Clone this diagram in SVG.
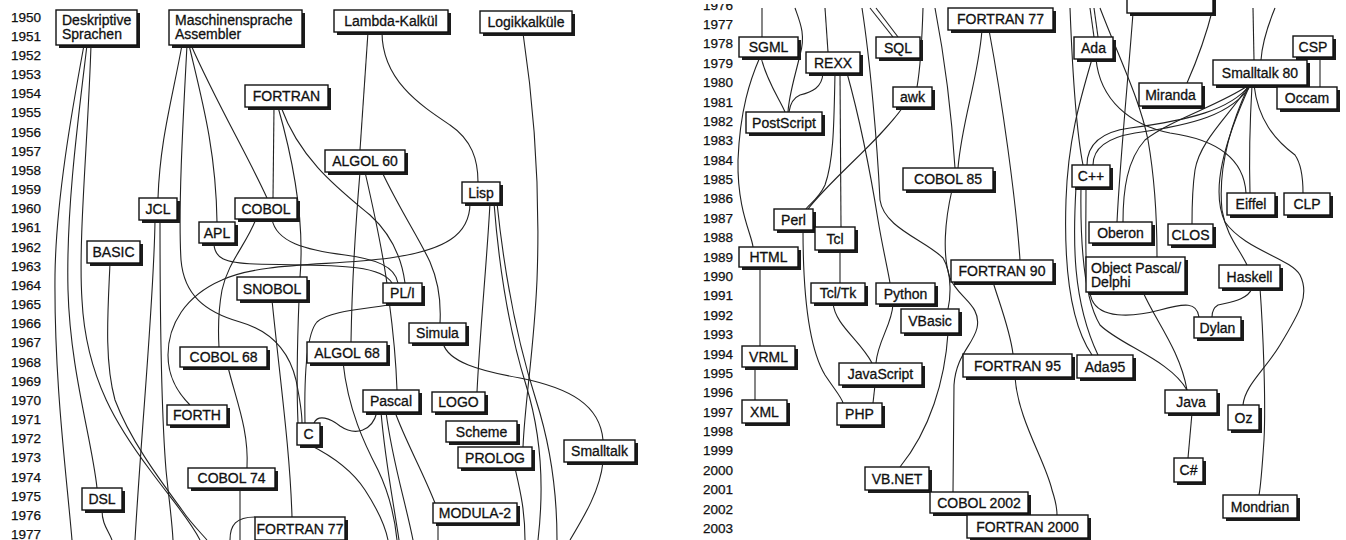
<svg xmlns="http://www.w3.org/2000/svg" width="1346" height="540" viewBox="0 0 1346 540">
<style>
.yr{font-family:"Liberation Sans",Arial,sans-serif;font-size:13.5px;fill:#111;stroke:#111;stroke-width:0.25}
.s{fill:#1c1c1c}
.b{fill:#fff;stroke:#111;stroke-width:1.4}
.t{font-family:"Liberation Sans",Arial,sans-serif;font-size:14px;fill:#111;stroke:#111;stroke-width:0.3;text-anchor:middle}
.tl{font-family:"Liberation Sans",Arial,sans-serif;font-size:14px;fill:#111;stroke:#111;stroke-width:0.3}
.c path{fill:none;stroke:#222;stroke-width:1.1}
</style>
<defs>
<clipPath id="topclip"><rect x="690" y="4" width="656" height="536"/></clipPath>
</defs>
<rect width="1346" height="540" fill="#fff"/>
<g id="years-left" class="yr">
<text x="11" y="21.5">1950</text><text x="11" y="40.7">1951</text><text x="11" y="59.8">1952</text><text x="11" y="79">1953</text><text x="11" y="98.2">1954</text><text x="11" y="117.4">1955</text><text x="11" y="136.5">1956</text><text x="11" y="155.7">1957</text><text x="11" y="174.9">1958</text><text x="11" y="194">1959</text><text x="11" y="213.2">1960</text><text x="11" y="232.4">1961</text><text x="11" y="251.5">1962</text><text x="11" y="270.7">1963</text><text x="11" y="289.9">1964</text><text x="11" y="309">1965</text><text x="11" y="328.2">1966</text><text x="11" y="347.4">1967</text><text x="11" y="366.6">1968</text><text x="11" y="385.7">1969</text><text x="11" y="404.9">1970</text><text x="11" y="424.1">1971</text><text x="11" y="443.2">1972</text><text x="11" y="462.4">1973</text><text x="11" y="481.6">1974</text><text x="11" y="500.8">1975</text><text x="11" y="519.9">1976</text><text x="11" y="539.1">1977</text>
</g>
<g id="years-right" class="yr" clip-path="url(#topclip)">
<text x="703" y="9.6">1976</text><text x="703" y="29">1977</text><text x="703" y="48.4">1978</text><text x="703" y="67.8">1979</text><text x="703" y="87.1">1980</text><text x="703" y="106.5">1981</text><text x="703" y="125.9">1982</text><text x="703" y="145.3">1983</text><text x="703" y="164.7">1984</text><text x="703" y="184">1985</text><text x="703" y="203.4">1986</text><text x="703" y="222.8">1987</text><text x="703" y="242.2">1988</text><text x="703" y="261.6">1989</text><text x="703" y="280.9">1990</text><text x="703" y="300.3">1991</text><text x="703" y="319.7">1992</text><text x="703" y="339.1">1993</text><text x="703" y="358.5">1994</text><text x="703" y="377.8">1995</text><text x="703" y="397.2">1996</text><text x="703" y="416.6">1997</text><text x="703" y="436">1998</text><text x="703" y="455.4">1999</text><text x="703" y="474.7">2000</text><text x="703" y="494.1">2001</text><text x="703" y="513.5">2002</text><text x="703" y="532.9">2003</text>
</g>
<g id="connectors" class="c">
<path d="M84,45 C72,110 56,200 55,275 C54,380 66,470 72,540"/>
<path d="M87,45 C78,120 66,210 68,290 C70,370 92,440 97,488"/>
<path d="M91,45 C88,140 78,240 82,300 C86,380 120,430 150,470 C172,500 190,520 200,540"/>
<path d="M110,263 C108,310 104,360 115,400 C130,440 160,480 182,510 C190,522 200,532 207,540"/>
<path d="M182,45 C172,100 160,140 158,198"/>
<path d="M155,220 C154,300 142,420 135,540"/>
<path d="M160,220 C160,330 162,420 166,470 C169,500 172,520 173,540"/>
<path d="M187,45 C183,120 178,210 181,260 C184,295 205,312 240,322 C275,332 290,355 296,380 C300,400 302,410 302,423"/>
<path d="M189,45 C202,100 216,150 217,222"/>
<path d="M191,45 C215,100 250,160 267,198"/>
<path d="M214,243 C214,258 224,263 255,264 C320,266 380,262 392,283"/>
<path d="M272,219 C276,242 305,250 345,255 C375,259 395,266 398,283"/>
<path d="M281,107 C300,160 340,190 370,215 C392,235 402,260 405,283"/>
<path d="M274,107 L273,198"/>
<path d="M278,107 C296,170 304,230 300,277"/>
<path d="M299,300 C297,350 297,400 298,423"/>
<path d="M272,300 C280,380 290,450 292,517"/>
<path d="M256,219 C246,245 228,262 222,290 C218,312 218,330 219,347"/>
<path d="M228,367 C236,400 249,430 247,468"/>
<path d="M240,488 L240,540"/>
<path d="M230,540 C230,525 236,517 255,517"/>
<path d="M102,510 C102,524 108,530 112,540"/>
<path d="M368,32 L360,150"/>
<path d="M382,32 C382,80 420,105 450,125 C472,140 478,160 478,182"/>
<path d="M523,33 C536,120 540,200 537,280 C534,350 525,400 523,447"/>
<path d="M360,172 C356,220 352,280 351,342"/>
<path d="M365,172 C376,220 386,270 389,300 C393,330 396,360 397,390"/>
<path d="M382,172 C400,210 420,240 430,262 C440,285 441,305 440,323"/>
<path d="M490,203 C487,260 480,330 477,392"/>
<path d="M494,203 C500,280 512,340 526,385 C540,430 545,480 538,540"/>
<path d="M497,203 C505,280 520,350 536,400 C552,450 557,500 557,540"/>
<path d="M470,203 C470,235 445,250 390,258 C330,266 260,262 222,280 C185,296 168,325 168,355 C168,380 180,395 190,405"/>
<path d="M400,303 C370,309 330,310 317,322 C307,333 304,370 305,423"/>
<path d="M377,412 C372,432 355,436 340,426 C330,418 318,414 314,423"/>
<path d="M443,343 C448,362 480,371 520,378 C570,388 600,405 603,440"/>
<path d="M343,362 C348,410 365,445 378,470 C390,495 395,520 397,540"/>
<path d="M381,412 C385,460 393,500 399,540"/>
<path d="M386,412 C392,460 405,500 413,540"/>
<path d="M395,412 C405,440 422,470 435,503"/>
<path d="M310,445 C330,455 352,470 365,490 C378,510 385,525 388,540"/>
<path d="M515,468 C520,490 525,510 525,540"/>
<path d="M438,523 L438,540"/>
<path d="M603,462 C600,490 585,515 570,540"/>
<path d="M762,8 L762,37"/>
<path d="M795,8 C800,22 806,35 800,55 C794,80 789,95 788,112"/>
<path d="M825,8 L828,52"/>
<path d="M862,8 C870,60 877,140 880,200 C884,228 925,240 943,258 C953,275 950,300 948,309"/>
<path d="M870,8 L893,37"/>
<path d="M876,8 L898,37"/>
<path d="M923,8 C922,40 920,70 917,87"/>
<path d="M935,8 C945,60 952,120 955,168"/>
<path d="M982,30 C978,80 962,120 958,168"/>
<path d="M989,30 C1002,100 1016,200 1020,260"/>
<path d="M760,57 C750,80 740,110 738,160 C737,210 752,235 753,247"/>
<path d="M761,57 C766,80 780,100 785,112"/>
<path d="M823,73 C822,88 812,92 800,95 C793,98 790,105 789,112"/>
<path d="M835,73 C834,120 834,160 825,185 C818,200 808,205 806,209"/>
<path d="M840,73 L841,227"/>
<path d="M847,73 C860,120 870,170 878,220 C883,250 888,270 890,283"/>
<path d="M903,107 C880,140 830,180 808,209"/>
<path d="M952,190 C945,220 942,255 950,278 C958,298 982,305 977,328 C973,345 956,355 954,385 L953,492"/>
<path d="M993,282 C1000,305 1010,330 1013,354"/>
<path d="M1015,377 C1018,420 1045,460 1052,490 C1056,502 1057,510 1057,515"/>
<path d="M803,230 C803,300 810,350 825,375 C835,390 842,398 843,403"/>
<path d="M840,250 L840,283"/>
<path d="M833,303 C835,325 860,340 872,363"/>
<path d="M893,304 C892,325 878,340 876,363"/>
<path d="M875,385 L873,403"/>
<path d="M948,333 C945,380 930,430 900,467"/>
<path d="M760,267 L760,346"/>
<path d="M755,367 L755,400"/>
<path d="M1070,8 C1072,60 1076,130 1083,165"/>
<path d="M1090,8 L1094,37"/>
<path d="M1094,8 L1098,37"/>
<path d="M1100,8 C1120,60 1140,100 1148,140 C1155,180 1157,220 1157,257"/>
<path d="M1133,13 C1128,80 1120,160 1117,222"/>
<path d="M1213,8 C1205,40 1195,65 1187,83"/>
<path d="M1253,8 L1254,60"/>
<path d="M1275,8 C1268,25 1262,45 1261,60"/>
<path d="M1320,57 L1320,87"/>
<path d="M1092,59 C1080,100 1068,140 1066,200 C1064,260 1068,320 1092,355"/>
<path d="M1076,187 C1073,240 1072,300 1098,355"/>
<path d="M1081,187 C1080,250 1085,300 1100,325 C1120,345 1170,360 1187,390"/>
<path d="M1086,187 C1086,240 1084,280 1092,300 C1100,318 1130,318 1160,310 C1185,303 1197,302 1199,317"/>
<path d="M1096,59 C1100,100 1130,125 1170,133 C1220,140 1244,160 1246,193"/>
<path d="M1250,85 C1230,110 1190,120 1130,128 C1100,132 1087,145 1087,165"/>
<path d="M1251,85 C1232,115 1192,125 1135,133 C1105,138 1093,150 1093,165"/>
<path d="M1249,85 C1220,105 1170,120 1145,140 C1127,160 1123,190 1123,222"/>
<path d="M1249,85 C1230,115 1200,140 1195,170 C1192,190 1192,210 1192,224"/>
<path d="M1252,85 C1250,120 1249,160 1250,193"/>
<path d="M1254,85 C1258,120 1275,140 1295,155 C1302,165 1303,180 1303,193"/>
<path d="M1249,85 C1228,130 1218,170 1222,210 C1226,235 1240,250 1247,265"/>
<path d="M1250,85 C1225,140 1210,190 1225,222 C1245,250 1290,258 1300,275 C1310,295 1300,312 1280,345 C1265,370 1245,385 1243,405"/>
<path d="M1143,292 C1155,320 1180,350 1187,390"/>
<path d="M1252,288 C1248,300 1230,302 1218,305 C1213,308 1212,312 1212,317"/>
<path d="M1260,288 C1263,330 1266,400 1264,440 C1262,470 1260,490 1259,495"/>
<path d="M1192,413 L1188,458"/>
</g>
<g id="n-desk"><rect class="s" x="59" y="13" width="81" height="35"/><rect class="b" x="56" y="10" width="81" height="35"/><text class="tl" x="62" y="25">Deskriptive</text><text class="tl" x="62" y="39">Sprachen</text></g>
<g id="n-masch"><rect class="s" x="172" y="13" width="133" height="35"/><rect class="b" x="169" y="10" width="133" height="35"/><text class="tl" x="175" y="25">Maschinensprache</text><text class="tl" x="175" y="39">Assembler</text></g>
<g id="n-lambda"><rect class="s" x="337" y="13" width="114" height="22"/><rect class="b" x="334" y="10" width="114" height="22"/><text class="t" x="391" y="26">Lambda-Kalkül</text></g>
<g id="n-logik"><rect class="s" x="483" y="14" width="92" height="22"/><rect class="b" x="480" y="11" width="92" height="22"/><text class="t" x="526" y="27">Logikkalküle</text></g>
<g id="n-fortran"><rect class="s" x="248" y="88" width="83" height="22"/><rect class="b" x="245" y="85" width="83" height="22"/><text class="t" x="286.5" y="101">FORTRAN</text></g>
<g id="n-algol60"><rect class="s" x="328" y="153" width="80" height="22"/><rect class="b" x="325" y="150" width="80" height="22"/><text class="t" x="365" y="166">ALGOL 60</text></g>
<g id="n-lisp"><rect class="s" x="465" y="185" width="38" height="21"/><rect class="b" x="462" y="182" width="38" height="21"/><text class="t" x="481" y="197.5">Lisp</text></g>
<g id="n-jcl"><rect class="s" x="142" y="201" width="38" height="22"/><rect class="b" x="139" y="198" width="38" height="22"/><text class="t" x="158" y="214">JCL</text></g>
<g id="n-cobol"><rect class="s" x="238" y="201" width="62" height="21"/><rect class="b" x="235" y="198" width="62" height="21"/><text class="t" x="266" y="213.5">COBOL</text></g>
<g id="n-apl"><rect class="s" x="202" y="225" width="36" height="21"/><rect class="b" x="199" y="222" width="36" height="21"/><text class="t" x="217" y="237.5">APL</text></g>
<g id="n-basic"><rect class="s" x="90" y="244" width="53" height="22"/><rect class="b" x="87" y="241" width="53" height="22"/><text class="t" x="113.5" y="257">BASIC</text></g>
<g id="n-snobol"><rect class="s" x="240" y="280" width="70" height="23"/><rect class="b" x="237" y="277" width="70" height="23"/><text class="t" x="272" y="293.5">SNOBOL</text></g>
<g id="n-pli"><rect class="s" x="386" y="286" width="39" height="20"/><rect class="b" x="383" y="283" width="39" height="20"/><text class="t" x="402.5" y="298">PL/I</text></g>
<g id="n-simula"><rect class="s" x="412" y="326" width="57" height="20"/><rect class="b" x="409" y="323" width="57" height="20"/><text class="t" x="437.5" y="338">Simula</text></g>
<g id="n-algol68"><rect class="s" x="310" y="345" width="80" height="21"/><rect class="b" x="307" y="342" width="80" height="21"/><text class="t" x="347" y="357.5">ALGOL 68</text></g>
<g id="n-cobol68"><rect class="s" x="183" y="350" width="87" height="20"/><rect class="b" x="180" y="347" width="87" height="20"/><text class="t" x="223.5" y="362">COBOL 68</text></g>
<g id="n-pascal"><rect class="s" x="366" y="393" width="56" height="22"/><rect class="b" x="363" y="390" width="56" height="22"/><text class="t" x="391" y="406">Pascal</text></g>
<g id="n-logo"><rect class="s" x="435" y="395" width="53" height="20"/><rect class="b" x="432" y="392" width="53" height="20"/><text class="t" x="458.5" y="407">LOGO</text></g>
<g id="n-forth"><rect class="s" x="170" y="408" width="60" height="20"/><rect class="b" x="167" y="405" width="60" height="20"/><text class="t" x="197" y="420">FORTH</text></g>
<g id="n-scheme"><rect class="s" x="449" y="424" width="71" height="21"/><rect class="b" x="446" y="421" width="71" height="21"/><text class="t" x="481.5" y="436.5">Scheme</text></g>
<g id="n-c"><rect class="s" x="300" y="426" width="23" height="22"/><rect class="b" x="297" y="423" width="23" height="22"/><text class="t" x="308.5" y="439">C</text></g>
<g id="n-smalltalk"><rect class="s" x="567" y="443" width="71" height="22"/><rect class="b" x="564" y="440" width="71" height="22"/><text class="t" x="599.5" y="456">Smalltalk</text></g>
<g id="n-prolog"><rect class="s" x="461" y="450" width="74" height="21"/><rect class="b" x="458" y="447" width="74" height="21"/><text class="t" x="495" y="462.5">PROLOG</text></g>
<g id="n-cobol74"><rect class="s" x="191" y="471" width="87" height="20"/><rect class="b" x="188" y="468" width="87" height="20"/><text class="t" x="231.5" y="483">COBOL 74</text></g>
<g id="n-dsl"><rect class="s" x="85" y="491" width="40" height="22"/><rect class="b" x="82" y="488" width="40" height="22"/><text class="t" x="102" y="504">DSL</text></g>
<g id="n-modula2"><rect class="s" x="436" y="506" width="84" height="20"/><rect class="b" x="433" y="503" width="84" height="20"/><text class="t" x="475" y="518">MODULA-2</text></g>
<g id="n-fortran77a"><rect class="s" x="258" y="520" width="90" height="23"/><rect class="b" x="255" y="517" width="90" height="23"/><text class="t" x="300" y="533.5">FORTRAN 77</text></g>
<g id="n-fortran77b"><rect class="s" x="951" y="11" width="105" height="22"/><rect class="b" x="948" y="8" width="105" height="22"/><text class="t" x="1000.5" y="24">FORTRAN 77</text></g>
<g id="n-cut"><rect class="s" x="1130" y="-9" width="86" height="25"/><rect class="b" x="1127" y="-12" width="86" height="25"/></g>
<g id="n-sgml"><rect class="s" x="742" y="40" width="59" height="20"/><rect class="b" x="739" y="37" width="59" height="20"/><text class="t" x="768.5" y="52">SGML</text></g>
<g id="n-ada"><rect class="s" x="1077" y="40" width="39" height="22"/><rect class="b" x="1074" y="37" width="39" height="22"/><text class="t" x="1093.5" y="53">Ada</text></g>
<g id="n-sql"><rect class="s" x="879" y="40" width="44" height="21"/><rect class="b" x="876" y="37" width="44" height="21"/><text class="t" x="898" y="52.5">SQL</text></g>
<g id="n-csp"><rect class="s" x="1296" y="39" width="40" height="21"/><rect class="b" x="1293" y="36" width="40" height="21"/><text class="t" x="1313" y="51.5">CSP</text></g>
<g id="n-rexx"><rect class="s" x="809" y="55" width="54" height="21"/><rect class="b" x="806" y="52" width="54" height="21"/><text class="t" x="833" y="67.5">REXX</text></g>
<g id="n-st80"><rect class="s" x="1216" y="63" width="94" height="25"/><rect class="b" x="1213" y="60" width="94" height="25"/><text class="t" x="1260" y="77.5">Smalltalk 80</text></g>
<g id="n-miranda"><rect class="s" x="1142" y="86" width="63" height="23"/><rect class="b" x="1139" y="83" width="63" height="23"/><text class="t" x="1170.5" y="99.5">Miranda</text></g>
<g id="n-awk"><rect class="s" x="896" y="90" width="39" height="20"/><rect class="b" x="893" y="87" width="39" height="20"/><text class="t" x="912.5" y="102">awk</text></g>
<g id="n-occam"><rect class="s" x="1280" y="90" width="60" height="22"/><rect class="b" x="1277" y="87" width="60" height="22"/><text class="t" x="1307" y="103">Occam</text></g>
<g id="n-postscript"><rect class="s" x="749" y="115" width="76" height="21"/><rect class="b" x="746" y="112" width="76" height="21"/><text class="t" x="784" y="127.5">PostScript</text></g>
<g id="n-cpp"><rect class="s" x="1075" y="168" width="38" height="22"/><rect class="b" x="1072" y="165" width="38" height="22"/><text class="t" x="1091" y="181">C++</text></g>
<g id="n-cobol85"><rect class="s" x="906" y="171" width="90" height="22"/><rect class="b" x="903" y="168" width="90" height="22"/><text class="t" x="948" y="184">COBOL 85</text></g>
<g id="n-eiffel"><rect class="s" x="1230" y="196" width="48" height="22"/><rect class="b" x="1227" y="193" width="48" height="22"/><text class="t" x="1251" y="209">Eiffel</text></g>
<g id="n-clp"><rect class="s" x="1287" y="196" width="46" height="22"/><rect class="b" x="1284" y="193" width="46" height="22"/><text class="t" x="1307" y="209">CLP</text></g>
<g id="n-perl"><rect class="s" x="777" y="212" width="39" height="21"/><rect class="b" x="774" y="209" width="39" height="21"/><text class="t" x="793.5" y="224.5">Perl</text></g>
<g id="n-oberon"><rect class="s" x="1092" y="225" width="63" height="21"/><rect class="b" x="1089" y="222" width="63" height="21"/><text class="t" x="1120.5" y="237.5">Oberon</text></g>
<g id="n-clos"><rect class="s" x="1171" y="227" width="45" height="21"/><rect class="b" x="1168" y="224" width="45" height="21"/><text class="t" x="1190.5" y="239.5">CLOS</text></g>
<g id="n-tcl"><rect class="s" x="818" y="230" width="40" height="23"/><rect class="b" x="815" y="227" width="40" height="23"/><text class="t" x="835" y="243.5">Tcl</text></g>
<g id="n-html"><rect class="s" x="742" y="250" width="59" height="20"/><rect class="b" x="739" y="247" width="59" height="20"/><text class="t" x="768.5" y="262">HTML</text></g>
<g id="n-objpascal"><rect class="s" x="1089" y="260" width="99" height="35"/><rect class="b" x="1086" y="257" width="99" height="35"/><text class="tl" x="1091" y="273">Object Pascal/</text><text class="tl" x="1091" y="287">Delphi</text></g>
<g id="n-fortran90"><rect class="s" x="954" y="263" width="102" height="22"/><rect class="b" x="951" y="260" width="102" height="22"/><text class="t" x="1002" y="276">FORTRAN 90</text></g>
<g id="n-haskell"><rect class="s" x="1222" y="268" width="61" height="23"/><rect class="b" x="1219" y="265" width="61" height="23"/><text class="t" x="1249.5" y="281.5">Haskell</text></g>
<g id="n-tcltk"><rect class="s" x="814" y="286" width="54" height="20"/><rect class="b" x="811" y="283" width="54" height="20"/><text class="t" x="838" y="298">Tcl/Tk</text></g>
<g id="n-python"><rect class="s" x="879" y="286" width="59" height="21"/><rect class="b" x="876" y="283" width="59" height="21"/><text class="t" x="905.5" y="298.5">Python</text></g>
<g id="n-vbasic"><rect class="s" x="904" y="312" width="58" height="24"/><rect class="b" x="901" y="309" width="58" height="24"/><text class="t" x="930" y="326">VBasic</text></g>
<g id="n-dylan"><rect class="s" x="1197" y="320" width="47" height="21"/><rect class="b" x="1194" y="317" width="47" height="21"/><text class="t" x="1217.5" y="332.5">Dylan</text></g>
<g id="n-vrml"><rect class="s" x="745" y="349" width="53" height="21"/><rect class="b" x="742" y="346" width="53" height="21"/><text class="t" x="768.5" y="361.5">VRML</text></g>
<g id="n-fortran95"><rect class="s" x="966" y="357" width="109" height="23"/><rect class="b" x="963" y="354" width="109" height="23"/><text class="t" x="1017.5" y="370.5">FORTRAN 95</text></g>
<g id="n-ada95"><rect class="s" x="1080" y="358" width="56" height="23"/><rect class="b" x="1077" y="355" width="56" height="23"/><text class="t" x="1105" y="371.5">Ada95</text></g>
<g id="n-javascript"><rect class="s" x="842" y="366" width="83" height="22"/><rect class="b" x="839" y="363" width="83" height="22"/><text class="t" x="880.5" y="379">JavaScript</text></g>
<g id="n-java"><rect class="s" x="1168" y="393" width="52" height="23"/><rect class="b" x="1165" y="390" width="52" height="23"/><text class="t" x="1191" y="406.5">Java</text></g>
<g id="n-xml"><rect class="s" x="745" y="403" width="45" height="23"/><rect class="b" x="742" y="400" width="45" height="23"/><text class="t" x="764.5" y="416.5">XML</text></g>
<g id="n-php"><rect class="s" x="840" y="406" width="45" height="22"/><rect class="b" x="837" y="403" width="45" height="22"/><text class="t" x="859.5" y="419">PHP</text></g>
<g id="n-oz"><rect class="s" x="1231" y="408" width="31" height="25"/><rect class="b" x="1228" y="405" width="31" height="25"/><text class="t" x="1243.5" y="422.5">Oz</text></g>
<g id="n-csharp"><rect class="s" x="1177" y="461" width="29" height="24"/><rect class="b" x="1174" y="458" width="29" height="24"/><text class="t" x="1188.5" y="475">C#</text></g>
<g id="n-vbnet"><rect class="s" x="868" y="470" width="64" height="23"/><rect class="b" x="865" y="467" width="64" height="23"/><text class="t" x="897" y="483.5">VB.NET</text></g>
<g id="n-cobol2002"><rect class="s" x="933" y="495" width="98" height="21"/><rect class="b" x="930" y="492" width="98" height="21"/><text class="t" x="979" y="507.5">COBOL 2002</text></g>
<g id="n-mondrian"><rect class="s" x="1226" y="498" width="74" height="23"/><rect class="b" x="1223" y="495" width="74" height="23"/><text class="t" x="1260" y="511.5">Mondrian</text></g>
<g id="n-fortran2000"><rect class="s" x="970" y="518" width="121" height="23"/><rect class="b" x="967" y="515" width="121" height="23"/><text class="t" x="1027.5" y="531.5">FORTRAN 2000</text></g>
</svg>
